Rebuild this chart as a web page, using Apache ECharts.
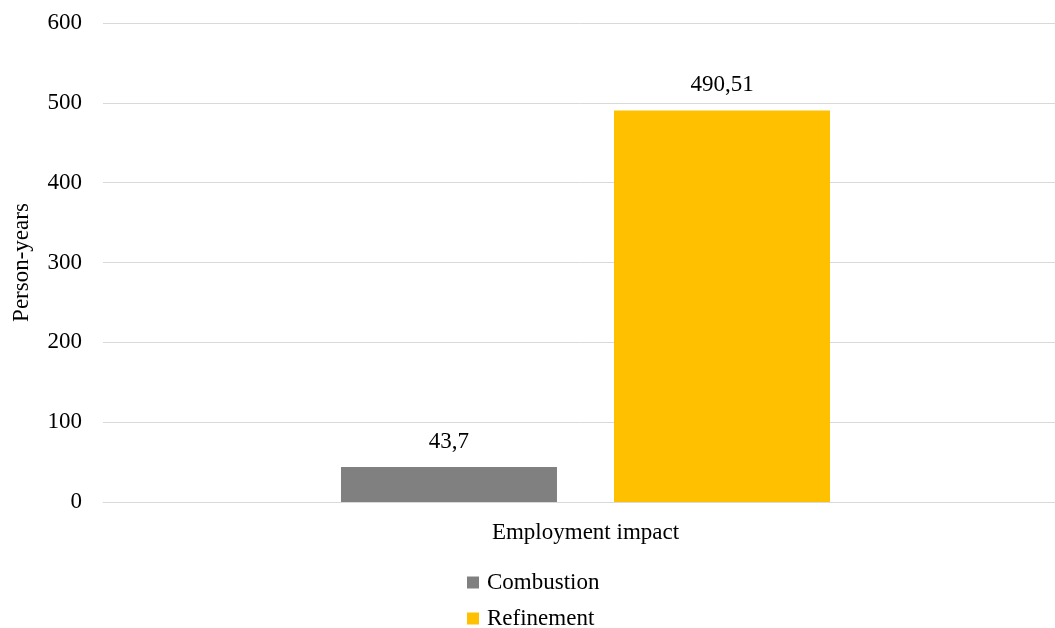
<!DOCTYPE html>
<html>
<head>
<meta charset="utf-8">
<script src="https://cdn.jsdelivr.net/npm/echarts@6/dist/echarts.min.js"></script>
<style>
  html, body { margin: 0; padding: 0; background: #fff; }
  #chart { width: 1055px; height: 628px; }
</style>
</head>
<body>
<div id="chart"></div>
<script>
// Employment impact, in person-years, by processing route
const categories = ['Employment impact'];
const seriesNames = ['Combustion', 'Refinement'];
const combustion = [43.7];
const refinement = [490.51];
const yTicks = [0, 100, 200, 300, 400, 500, 600];

const FONT = '"Liberation Serif", "DejaVu Serif", serif';
const colors = ['#808080', '#FFC000'];

const fmt = v => String(v).replace('.', ',');

const chart = echarts.init(document.getElementById('chart'), null, { renderer: 'canvas' });
chart.setOption({
  animation: false,
  textStyle: { fontFamily: FONT },
  grid: { left: 103, width: 965, top: 23, height: 479, containLabel: false, outerBoundsMode: 'none' },
  legend: {
    orient: 'vertical',
    left: 462,
    top: 569,
    height: 80,
    padding: [2, 5, 2, 5],
    itemWidth: 12,
    itemHeight: 12,
    itemGap: 13,
    icon: 'rect',
    data: seriesNames,
    textStyle: { fontFamily: FONT, fontSize: 23, lineHeight: 23, color: '#000', padding: [0, 0, 0, 3] }
  },
  xAxis: {
    type: 'category',
    data: categories,
    axisLine: { show: true, lineStyle: { color: '#d9d9d9', width: 1 } },
    axisTick: { show: false },
    axisLabel: { fontFamily: FONT, fontSize: 23, color: '#000', margin: 19 }
  },
  yAxis: {
    type: 'value',
    min: yTicks[0],
    max: yTicks[yTicks.length - 1],
    interval: 100,
    name: 'Person-years',
    nameLocation: 'middle',
    nameGap: 70,
    nameRotate: 90,
    nameTextStyle: { fontFamily: FONT, fontSize: 23, color: '#000' },
    axisLine: { show: false },
    axisTick: { show: false },
    axisLabel: { fontFamily: FONT, fontSize: 23, color: '#000', margin: 21 },
    splitLine: { lineStyle: { color: '#d9d9d9', width: 1 } }
  },
  series: [
    {
      name: seriesNames[0],
      type: 'bar',
      data: combustion,
      barWidth: 216,
      barGap: '26.4%',
      itemStyle: { color: colors[0] },
      label: { show: true, position: 'top', distance: 14, fontFamily: FONT, fontSize: 23, color: '#000', formatter: p => fmt(p.value) }
    },
    {
      name: seriesNames[1],
      type: 'bar',
      data: refinement,
      barWidth: 216,
      itemStyle: { color: colors[1] },
      label: { show: true, position: 'top', distance: 14, fontFamily: FONT, fontSize: 23, color: '#000', formatter: p => fmt(p.value) }
    }
  ]
});
</script>
</body>
</html>
